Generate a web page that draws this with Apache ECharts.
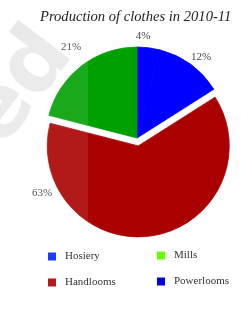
<!DOCTYPE html>
<html>
<head>
<meta charset="utf-8">
<script src="https://cdn.jsdelivr.net/npm/echarts@6/dist/echarts.min.js"></script>
<style>
  html, body { margin: 0; padding: 0; background: #fff; }
  #main { width: 241px; height: 313px; }
</style>
</head>
<body>
<div id="main"></div>
<script>
// order as drawn clockwise from 12 o'clock
var categories = ['Powerlooms', 'Hosiery', 'Handlooms', 'Mills'];
var shares = [4, 12, 63, 21];
var sliceColors = ['#0000ff', '#0000ff', '#aa0000', '#00a000'];

// legend order and its own swatch colours
var legendLeft = ['Hosiery', 'Handlooms'];
var legendRight = ['Mills', 'Powerlooms'];
var swatch = { Hosiery: '#1a3cff', Mills: '#66ff00', Handlooms: '#b01c1c', Powerlooms: '#0000e0' };

document.addEventListener('DOMContentLoaded', function () {
    var chart = echarts.init(document.getElementById('main'));

    // where the percentage labels sit in the original
    var labelSpots = [[143, 36], [201, 57], [42, 193], [71, 47]];

    var slices = categories.map(function (name, i) {
        return {
            name: name,
            value: shares[i],
            selected: name === 'Handlooms',
            itemStyle: { color: sliceColors[i], borderColor: sliceColors[i], borderWidth: 0.8 }
        };
    });

    // same data again, invisible, only to carry the labels
    var labelCarrier = categories.map(function (name, i) {
        return { name: name, value: shares[i] };
    });

    function legendItems(names) {
        return names.map(function (n) {
            return { name: n, itemStyle: { color: swatch[n], borderWidth: 0 } };
        });
    }

    var legendText = {
        fontFamily: 'Liberation Serif',
        fontSize: 11,
        color: '#333',
        padding: [0, 0, 0, 4]
    };

    var option = {
        animation: false,
        backgroundColor: '#fff',
        title: {
            text: 'Production of clothes in 2010-11',
            left: 35,
            top: 5,
            textStyle: {
                fontFamily: 'Liberation Serif',
                fontStyle: 'italic',
                fontWeight: 'normal',
                fontSize: 14.6,
                color: '#222'
            }
        },
        graphic: [
            {
                type: 'text',
                left: -50,
                top: 14,
                rotation: 0.92,
                z: -10,
                style: {
                    text: 'ed',
                    font: 'bold 86px "DejaVu Sans"',
                    fill: '#e9e9e9'
                }
            },
            {
                type: 'rect',
                shape: { x: 0, y: 40, width: 88, height: 210 },
                z: 100,
                silent: true,
                style: { fill: 'rgba(255,255,255,0.1)' }
            }
        ],
        legend: [
            {
                orient: 'vertical',
                left: 43,
                top: 246,
                icon: 'rect',
                itemWidth: 8,
                itemHeight: 8,
                itemGap: 15,
                selectedMode: false,
                textStyle: legendText,
                data: legendItems(legendLeft)
            },
            {
                orient: 'vertical',
                left: 152,
                top: 245,
                icon: 'rect',
                itemWidth: 8,
                itemHeight: 8,
                itemGap: 15,
                selectedMode: false,
                textStyle: legendText,
                data: legendItems(legendRight)
            }
        ],
        series: [
            {
                type: 'pie',
                center: [137, 138],
                radius: 91,
                startAngle: 90,
                clockwise: true,
                selectedMode: 'single',
                selectedOffset: 8,
                silent: true,
                label: { show: false },
                labelLine: { show: false },
                data: slices
            },
            {
                type: 'pie',
                center: [137, 138],
                radius: 91,
                startAngle: 90,
                clockwise: true,
                silent: true,
                z: 3,
                legendHoverLink: false,
                itemStyle: { color: 'rgba(0,0,0,0)' },
                label: {
                    show: true,
                    position: 'outside',
                    formatter: '{c}%',
                    overflow: 'none',
                    fontFamily: 'Liberation Serif',
                    fontSize: 11,
                    color: '#444'
                },
                labelLine: { show: false },
                labelLayout: function (params) {
                    var p = labelSpots[params.dataIndex];
                    return { x: p[0], y: p[1], align: 'center', verticalAlign: 'middle' };
                },
                data: labelCarrier
            }
        ]
    };

    chart.setOption(option);
});
</script>
</body>
</html>
